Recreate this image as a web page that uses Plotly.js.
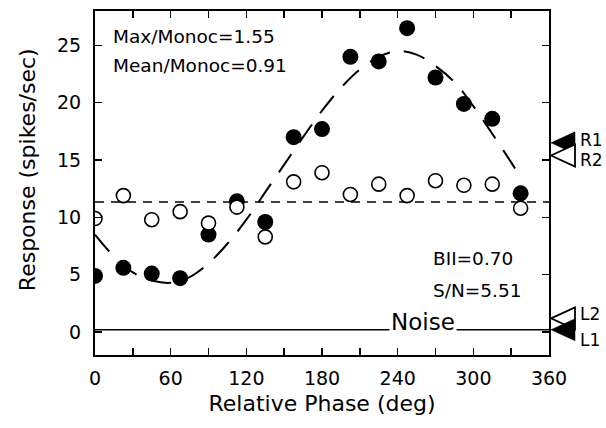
<!DOCTYPE html>
<html>
<head>
<meta charset="utf-8">
<script src="https://cdn.plot.ly/plotly-3.0.1.min.js"></script>
<style>html,body{margin:0;padding:0;background:#fff}#chart{width:606px;height:428px}</style>
</head>
<body>
<div id="chart"></div>
<script>
// ---- data ----
const phases = [0, 22.5, 45, 67.5, 90, 112.5, 135, 157.5, 180, 202.5, 225, 247.5, 270, 292.5, 315, 337.5];
const binocular = [4.9, 5.6, 5.1, 4.7, 8.5, 11.4, 9.6, 17.0, 17.7, 24.0, 23.6, 26.5, 22.2, 19.9, 18.6, 12.1];
const monocularSum = [9.9, 11.9, 9.8, 10.5, 9.5, 10.9, 8.3, 13.1, 13.9, 12.0, 12.9, 11.9, 13.2, 12.8, 12.9, 10.8];
const fitPhases = [0, 15, 30, 45, 60, 75, 90, 105, 120, 135, 150, 165, 180, 195, 210, 225, 240, 255, 270, 285, 300, 315, 330, 337.5];
const fitValues = [8.5, 6.6, 5.2, 4.5, 4.3, 4.8, 6.0, 7.7, 9.8, 12.2, 14.6, 17.0, 19.3, 21.3, 22.9, 24.0, 24.5, 24.2, 23.2, 21.8, 19.7, 17.3, 14.8, 13.5];
const meanLevel = 11.35;
const noiseLevel = 0.2;
const monoLabels = ['R1', 'R2', 'L2', 'L1'];
const monoValues = [16.5, 15.4, 1.2, 0.2];
const monoFilled = [true, false, false, true];
const xTickVals = [0, 30, 60, 90, 120, 150, 180, 210, 240, 270, 300, 330, 360];
const xTickText = ['0', '', '60', '', '120', '', '180', '', '240', '', '300', '', '360'];
const yTickVals = [0, 5, 10, 15, 20, 25];
const statsLeft = ['Max/Monoc=1.55', 'Mean/Monoc=0.91'];
const statsRight = ['BII=0.70', 'S/N=5.51'];

const FONT = 'DejaVu Sans, Verdana, sans-serif';
const xRange = [0, 360];

const traces = [
  { x: [xRange[0], xRange[1]], y: [noiseLevel, noiseLevel], mode: 'lines',
    line: { color: '#000', width: 1.5 }, hoverinfo: 'skip' },
  { x: [xRange[0], xRange[1]], y: [meanLevel, meanLevel], mode: 'lines',
    line: { color: '#000', width: 1.5, dash: '9px,7px' }, hoverinfo: 'skip' },
  { x: fitPhases, y: fitValues, mode: 'lines',
    line: { color: '#000', width: 2, dash: '22px,14px', shape: 'spline' }, hoverinfo: 'skip' },
  { x: phases, y: binocular, mode: 'markers',
    marker: { symbol: 'circle', size: 16, color: '#000', line: { width: 0 } } },
  { x: phases, y: monocularSum, mode: 'markers',
    marker: { symbol: 'circle', size: 14, color: '#fff', line: { color: '#000', width: 1.6 } } }
];

// monocular-level triangles just outside the right axis (y from the data, sized in pixels)
const shapes = monoValues.map((v, i) => ({
  type: 'path', xref: 'paper', yref: 'y', xsizemode: 'pixel', ysizemode: 'pixel',
  xanchor: 1, yanchor: v,
  path: 'M 2 0 L 26 11 L 26 -11 Z',
  fillcolor: monoFilled[i] ? '#000' : '#fff',
  line: { color: '#000', width: monoFilled[i] ? 0.5 : 1.8 },
  layer: 'above'
}));

const labelShift = { R1: 3, R2: -5, L2: 4, L1: -10 };
const annotations = [];
monoLabels.forEach((lab, i) => {
  annotations.push({ x: 1, y: monoValues[i], xref: 'paper', yref: 'y', text: lab, showarrow: false,
    xanchor: 'left', xshift: 30, yshift: labelShift[lab], borderpad: 0,
    font: { family: FONT, size: 17, color: '#000' } });
});
statsLeft.forEach((t, i) => {
  annotations.push({ x: 0.035, y: 0.925 - i * 0.084, xref: 'paper', yref: 'paper', text: t, showarrow: false,
    xanchor: 'left', yanchor: 'middle', font: { family: FONT, size: 18.5, color: '#000' } });
});
statsRight.forEach((t, i) => {
  annotations.push({ x: 0.74, y: 0.281 - i * 0.093, xref: 'paper', yref: 'paper', text: t, showarrow: false,
    xanchor: 'left', yanchor: 'middle', font: { family: FONT, size: 18.5, color: '#000' } });
});
annotations.push({ x: 0.722, y: noiseLevel, xref: 'paper', yref: 'y', text: 'Noise', showarrow: false,
  xanchor: 'center', yanchor: 'bottom', yshift: -7, bgcolor: '#fff', borderpad: 1,
  font: { family: FONT, size: 23, color: '#000' } });
annotations.push({ x: -0.15, y: 0.54, xref: 'paper', yref: 'paper', text: 'Response (spikes/sec)',
  showarrow: false, textangle: -90, xanchor: 'center', yanchor: 'middle',
  font: { family: FONT, size: 22, color: '#000' } });

const layout = {
  width: 606, height: 428,
  margin: { l: 95, r: 57, t: 11, b: 73 },
  paper_bgcolor: '#fff', plot_bgcolor: '#fff',
  showlegend: false,
  font: { family: FONT, color: '#000' },
  xaxis: {
    range: xRange, tickmode: 'array', tickvals: xTickVals, ticktext: xTickText,
    ticks: 'inside', ticklen: 7, tickwidth: 1.5, tickcolor: '#000',
    showline: true, linewidth: 2, linecolor: '#000', mirror: 'ticks',
    showgrid: false, zeroline: false, ticklabelstandoff: 5,
    tickfont: { family: FONT, size: 19, color: '#000' },
    title: { text: 'Relative Phase (deg)', font: { family: FONT, size: 22, color: '#000' }, standoff: 8 }
  },
  yaxis: {
    range: [-2, 28], tickmode: 'array', tickvals: yTickVals,
    ticks: 'inside', ticklen: 7, tickwidth: 1.5, tickcolor: '#000',
    showline: true, linewidth: 2, linecolor: '#000', mirror: 'ticks',
    showgrid: false, zeroline: false, ticklabelstandoff: 8,
    tickfont: { family: FONT, size: 19, color: '#000' }
  },
  shapes: shapes,
  annotations: annotations
};

Plotly.newPlot('chart', traces, layout, { staticPlot: true, displayModeBar: false });
</script>
</body>
</html>
